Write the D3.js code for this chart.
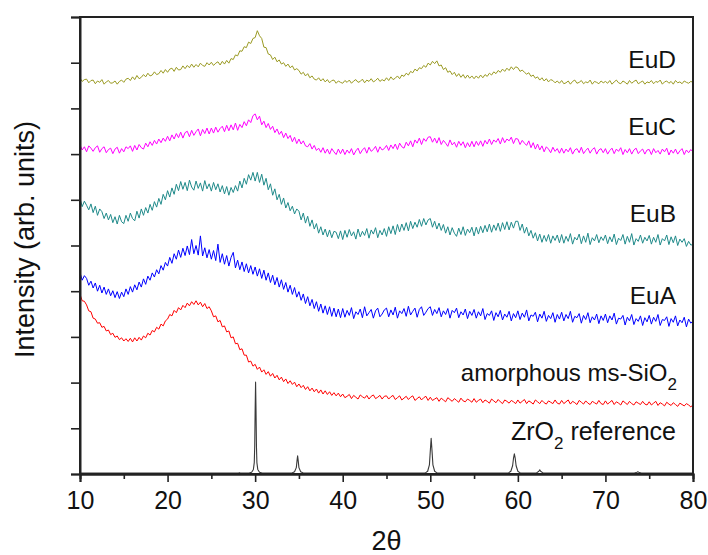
<!DOCTYPE html>
<html>
<head>
<meta charset="utf-8">
<script src="https://cdn.jsdelivr.net/npm/d3@7"></script>
<style>
  html, body { margin: 0; padding: 0; background: #fff; }
  svg text { font-family: "Liberation Sans", Arial, sans-serif; fill: #111; }
</style>
</head>
<body>
<svg id="chart" width="708" height="555"></svg>
<script>
// 2θ sampling grid of the measured patterns: 10° to 80° in 0.25° steps
const thetaStart = 10, thetaStep = 0.25, thetaCount = 281;

// Measured intensities (arb. units, vertically offset per sample)
const euD = [
  866,859,863,864,856,861,862,854,860,857,863,853,858,861,855,856,860,853,859,862,
  857,864,866,861,869,863,872,865,868,874,869,877,871,873,880,874,876,883,877,885,
  879,886,888,881,890,884,885,893,887,894,889,897,890,896,891,899,894,892,900,895,
  901,894,899,902,895,903,897,905,899,909,907,917,915,926,925,935,933,945,942,953,
  955,970,959,953,934,933,919,917,907,912,902,906,897,900,892,897,889,893,884,887,
  883,875,879,871,876,867,871,864,862,867,860,865,858,863,856,861,862,855,860,857,
  855,861,857,862,855,860,863,857,859,864,856,862,859,865,858,861,866,859,863,860,
  867,861,869,863,866,871,865,873,870,877,873,881,878,886,882,889,887,894,890,899,
  895,903,898,904,893,895,885,889,879,882,874,879,870,876,868,874,866,873,866,871,
  865,871,866,873,867,874,870,877,873,880,876,883,879,886,881,888,883,891,885,891,
  889,881,884,879,875,878,870,873,866,869,862,867,860,865,858,863,861,856,860,855,
  861,854,856,860,853,859,862,855,857,861,854,858,856,862,853,859,857,854,860,856,
  859,855,861,853,858,862,856,854,860,857,853,861,855,859,862,854,857,860,853,858,
  856,861,854,859,857,862,853,858,860,855,859,853,861,856,858,854,860,857,855,859,
  857
];

const euC = [
  720,709,716,705,718,713,706,714,718,704,712,716,703,710,713,701,711,715,702,712,
  705,716,712,718,706,719,709,721,714,711,724,716,727,719,730,722,733,725,735,728,
  739,729,742,733,745,736,748,735,747,750,738,752,741,749,755,740,754,745,757,744,
  757,746,759,748,756,761,749,763,751,764,753,768,752,765,758,771,762,775,769,784,
  788,775,783,764,772,758,767,754,761,747,755,743,750,736,746,734,741,727,737,723,
  733,722,729,718,716,723,711,719,708,713,704,714,702,711,700,712,705,699,711,701,
  711,699,709,702,712,698,707,713,701,709,714,702,715,706,710,717,704,716,709,712,
  719,708,720,712,722,710,724,716,713,726,718,729,716,731,724,735,721,734,728,737,
  738,726,735,724,736,721,730,724,717,731,720,726,715,728,719,727,714,725,716,728,
  716,728,719,729,717,730,722,733,721,731,726,734,722,736,725,733,729,737,723,734,
  733,721,730,724,719,729,714,725,711,722,709,718,705,716,711,703,715,706,712,702,
  713,702,711,705,714,700,709,712,703,715,701,708,713,702,710,714,700,709,712,703,
  712,700,708,713,701,711,706,714,699,710,703,712,700,709,713,701,707,711,700,709,
  710,699,712,703,708,700,711,705,713,698,709,702,711,700,707,712,699,709,703,710,
  705
];

const euB = [
  603,585,597,588,578,591,572,586,566,580,574,559,571,556,568,550,563,547,566,552,
  548,566,553,571,559,554,575,560,580,566,583,571,590,577,596,584,603,590,612,600,
  620,606,626,612,634,620,640,623,638,620,643,628,621,641,625,637,619,642,624,635,
  619,638,622,635,617,631,613,629,610,627,616,631,619,641,626,647,634,655,643,660,
  641,660,638,656,632,647,622,635,610,624,600,612,590,604,582,594,576,586,569,580,
  575,556,571,549,564,542,556,536,548,527,541,523,536,519,534,517,531,529,515,532,
  513,533,518,535,521,530,514,536,519,531,522,537,516,534,525,539,517,533,523,537,
  520,541,526,543,524,546,530,547,533,550,532,553,537,551,540,557,542,559,545,556,
  559,540,553,536,549,533,546,527,541,523,539,527,520,538,524,541,522,536,528,540,
  521,540,525,542,528,544,530,547,529,545,533,549,531,550,535,552,534,551,538,553,
  553,533,547,527,540,521,533,516,528,510,525,507,522,509,524,505,521,511,523,506,
  524,505,520,509,526,503,518,512,525,504,521,507,527,502,517,510,524,506,519,511,
  523,504,519,508,525,502,516,511,524,503,520,507,526,501,515,509,523,505,518,510,
  522,503,518,507,524,501,515,510,523,502,519,506,521,500,514,507,515,498,509,501,
  502
];

const euA = [
  441,424,434,428,413,422,407,418,400,413,396,409,393,405,390,401,386,399,384,398,
  388,405,393,410,398,414,403,420,409,427,415,433,424,440,431,447,438,456,446,463,
  455,474,461,482,470,490,474,494,478,499,480,513,482,500,479,521,477,495,473,491,
  470,489,467,503,463,482,459,478,455,474,485,451,468,447,464,443,460,440,456,437,
  453,433,449,428,446,424,440,419,435,414,430,409,425,404,419,398,413,393,408,387,
  399,380,394,373,388,368,382,362,377,356,372,352,368,349,366,345,363,344,361,342,
  362,343,358,347,364,340,355,349,361,342,366,346,353,360,341,357,363,344,350,359,
  363,344,359,348,365,341,357,351,362,345,367,348,356,363,343,360,366,347,354,362,
  366,347,360,351,364,344,357,349,362,341,358,353,363,342,355,348,361,340,356,347,
  360,341,355,346,362,338,351,347,357,336,353,344,358,337,350,343,356,335,351,342,
  357,338,352,343,359,335,348,345,354,333,350,341,356,334,347,340,353,332,349,339,
  354,335,349,340,356,332,345,342,351,330,347,338,353,331,344,337,350,329,346,336,
  350,331,346,337,352,328,341,339,347,326,343,335,349,327,340,334,346,325,342,333,
  347,328,343,334,349,325,338,336,344,323,340,332,346,324,337,331,343,322,339,330,
  335
];

const siO2 = [
  393,379,378,370,357,355,341,339,330,331,321,323,313,315,305,308,299,302,294,298,
  291,296,290,297,289,298,291,299,293,302,298,308,304,314,311,321,317,328,324,335,
  339,349,346,358,353,364,359,369,364,374,368,377,371,379,370,376,366,373,362,366,
  357,344,346,333,336,322,324,311,313,298,300,285,286,272,274,260,260,245,247,236,
  240,229,234,223,228,218,224,214,220,210,216,206,212,202,208,198,204,196,201,191,
  197,189,194,185,191,182,188,180,186,177,184,175,182,174,180,172,178,171,177,169,
  175,167,170,174,165,172,168,164,173,169,166,172,164,170,173,165,168,172,164,170,
  171,164,169,172,163,167,171,162,166,170,163,168,171,161,165,169,162,167,170,161,
  168,161,164,167,159,166,162,158,167,163,159,165,161,157,166,160,158,164,161,157,
  165,157,161,164,156,162,159,155,164,160,156,163,158,154,162,159,155,161,158,154,
  162,155,159,163,154,160,157,153,162,158,154,161,156,153,160,157,154,162,155,153,
  161,154,158,162,153,159,156,152,161,157,153,160,155,152,159,156,153,161,154,152,
  160,153,157,161,152,158,155,151,160,156,152,159,154,151,158,155,152,159,153,151,
  158,151,155,159,150,156,153,149,157,153,150,156,152,148,155,152,149,154,151,147,
  151
];

// ZrO2 reference pattern: 2θ positions and intensities
const zrTheta = [10,27.8,28.1,28.2,28.3,29.3,29.6,29.8,29.9,29.95,30.0,30.05,30.1,30.15,30.2,30.3,30.5,30.8,
  34.2,34.5,34.7,34.8,34.85,34.9,35.0,35.2,35.5,
  49.4,49.7,49.9,50.0,50.1,50.2,50.3,50.5,50.8,
  58.9,59.2,59.4,59.5,59.6,59.7,59.8,60.0,60.3,
  62.1,62.4,62.5,62.6,62.9,
  73.3,73.6,73.7,73.8,74.1,80];
const zrInt = [2,2,2,3,2,2,4,10,25,60,140,201,140,60,25,10,4,2,
  2,5,14,32,40,32,14,5,2,
  2,6,20,50,78,50,20,6,2,
  2,6,18,34,44,34,18,6,2,
  2,6,9,6,2,
  2,4,5,4,2,2];

const seriesNames = ["EuD", "EuC", "EuB", "EuA", "amorphous ms-SiO", "ZrO"];
const seriesColors = ["#9a9a22", "#ff00ff", "#1f8a8a", "#0000ff", "#ff0000", "#3a3a3a"];

const xTicks = [10, 20, 30, 40, 50, 60, 70, 80];
const xMinorTicks = [15, 25, 35, 45, 55, 65, 75];
const yTicks = d3.range(0, 1001, 100);

// ---- layout ----
const svg = d3.select("#chart");
const plotL = 80, plotR = 693, plotT = 17, plotB = 474;

const x = d3.scaleLinear().domain([10, 80]).range([plotL, plotR]);
const y = d3.scaleLinear().domain([0, 1000]).range([plotB, plotT]);

svg.append("defs").append("clipPath").attr("id", "plotClip")
  .append("rect").attr("x", plotL).attr("y", plotT).attr("width", plotR - plotL).attr("height", plotB - plotT);

const theta = d3.range(thetaCount).map(i => thetaStart + i * thetaStep);
const line = d3.line().x(d => x(d[0])).y(d => y(d[1]));

const plotData = [euD, euC, euB, euA, siO2].map(vals => vals.map((v, i) => [theta[i], v]));
plotData.push(zrTheta.map((t, i) => [t, zrInt[i]]));

const g = svg.append("g").attr("clip-path", "url(#plotClip)");
g.selectAll("path.series").data(plotData).join("path")
  .attr("class", "series")
  .attr("d", line)
  .attr("fill", "none")
  .attr("stroke", (d, i) => seriesColors[i])
  .attr("stroke-width", (d, i) => i === 5 ? 1.1 : 1)
  .attr("stroke-linejoin", "round");

// frame
svg.append("rect")
  .attr("x", plotL).attr("y", plotT).attr("width", plotR - plotL).attr("height", plotB - plotT)
  .attr("fill", "none").attr("stroke", "#222").attr("stroke-width", 2);

// axes
const xAxis = svg.append("g").attr("transform", `translate(0,${plotB})`)
  .call(d3.axisBottom(x).tickValues(xTicks).tickSize(8).tickPadding(9).tickFormat(d3.format("d")));
const xMinor = svg.append("g").attr("transform", `translate(0,${plotB})`)
  .call(d3.axisBottom(x).tickValues(xMinorTicks).tickSize(5).tickFormat(""));
const yAxis = svg.append("g").attr("transform", `translate(${plotL},0)`)
  .call(d3.axisLeft(y).tickValues(yTicks).tickSize(9).tickFormat(""));

[xAxis, xMinor, yAxis].forEach(a => {
  a.select(".domain").attr("stroke", "#222").attr("stroke-width", 2);
  a.selectAll(".tick line").attr("stroke", "#222").attr("stroke-width", 1.6);
});
xAxis.selectAll(".tick text").attr("font-size", 25).attr("fill", "#111")
  .attr("font-family", "'Liberation Sans', Arial, sans-serif");

// axis titles
svg.append("text").attr("x", (plotL + plotR) / 2).attr("y", 550)
  .attr("text-anchor", "middle").attr("font-size", 27).text("2θ");
svg.append("text").attr("transform", `translate(34,${(plotT + plotB) / 2 - 6}) rotate(-90)`)
  .attr("text-anchor", "middle").attr("font-size", 27).text("Intensity (arb. units)");

// series labels
const labelX = 676;
const labelY = [68, 135, 222, 304];
seriesNames.slice(0, 4).forEach((name, i) => {
  svg.append("text").attr("x", labelX).attr("y", labelY[i])
    .attr("text-anchor", "end").attr("font-size", 24.5).text(name);
});
const siLabel = svg.append("text").attr("x", labelX + 1).attr("y", 381)
  .attr("text-anchor", "end").attr("font-size", 24);
siLabel.append("tspan").text(seriesNames[4]);
siLabel.append("tspan").attr("dy", 9).attr("font-size", 17).text("2");

const zrLabel = svg.append("text").attr("x", labelX).attr("y", 440)
  .attr("text-anchor", "end").attr("font-size", 25);
zrLabel.append("tspan").text(seriesNames[5]);
zrLabel.append("tspan").attr("dy", 9).attr("font-size", 17).text("2");
zrLabel.append("tspan").attr("dy", -9).text(" reference");
</script>
</body>
</html>
